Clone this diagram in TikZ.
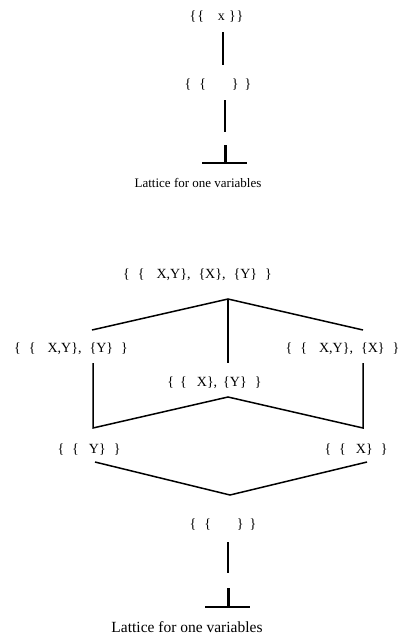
\documentclass[tikz,border=0pt]{standalone}
\usepackage{fontspec}
\setmainfont{Liberation Serif}
\newcommand{\gp}[1]{\hspace{#1pt}}
\begin{document}
\begin{tikzpicture}[x=1pt,y=-1pt,
  lbl/.style={inner sep=0pt,font=\fontsize{14}{16}\selectfont},
  captext/.style={inner sep=0pt,font=\fontsize{15.5}{18}\selectfont},
  edge/.style={line width=1.5pt}]
\useasboundingbox (0,0) rectangle (400,635);
% ---- top lattice
\node[lbl] (tx) at (216.5,17) {\{\gp{1}\{\gp{14}x\gp{4}\}\gp{1}\}};
\node[lbl] (te) at (218,85) {\{\gp{8}\{\gp{20}\gp{6}\}\gp{6}\}};
\coordinate (ta1) at (223,32);
\coordinate (ta2) at (223,65);
\coordinate (tb1) at (225,100);
\coordinate (tb2) at (225,132);
\draw[edge] (ta1) -- (ta2);
\draw[edge] (tb1) -- (tb2);
\coordinate (tbot) at (225,145);
\coordinate (tbl) at (202,163);
\coordinate (tbr) at (247,163);
\draw[line width=3pt] (tbot) -- (tbot |- tbl);
\draw[line width=2.4pt] (tbl) -- (tbr);
\node[captext,font=\fontsize{13}{15}\selectfont] (tcap) at (198,183) {Lattice for one variables};
% ---- bottom lattice
\node[lbl] (xyall) at (197.5,275) {\{\gp{8}\{\gp{12}X,Y\},\gp{8}\{X\},\gp{8}\{Y\}\gp{8}\}};
\node[lbl] (xyy) at (71,349) {\{\gp{8}\{\gp{12}X,Y\},\gp{8}\{Y\}\gp{8}\}};
\node[lbl] (xyx) at (342.5,349) {\{\gp{8}\{\gp{12}X,Y\},\gp{8}\{X\}\gp{8}\}};
\node[lbl] (xy) at (214.5,383) {\{\gp{6}\{\gp{10}X\},\gp{6}\{Y\}\gp{8}\}};
\node[lbl] (yy) at (89,450) {\{\gp{8}\{\gp{10}Y\}\gp{8}\}};
\node[lbl] (xx) at (356,450) {\{\gp{8}\{\gp{10}X\}\gp{8}\}};
\node[lbl] (ee) at (223,525) {\{\gp{8}\{\gp{20}\gp{6}\}\gp{6}\}};
\coordinate (ap1) at (228,299);
\coordinate (l1) at (92,330);
\coordinate (r1) at (363,330);
\coordinate (m1) at (228,363);
\draw[edge] (l1) -- (ap1) -- (r1);
\draw[edge] (ap1) -- (m1);
\coordinate (lv1) at (93,363);
\coordinate (lv2) at (93,428);
\coordinate (rv1) at (363,363);
\coordinate (rv2) at (363,428);
\coordinate (ap2) at (228,397);
\draw[edge] (lv1) -- (lv2) -- (ap2) -- (rv2) -- (rv1);
\coordinate (l3) at (95,462);
\coordinate (ap3) at (230,495);
\coordinate (r3) at (367,462);
\draw[edge] (l3) -- (ap3) -- (r3);
\coordinate (b1) at (228,542);
\coordinate (b2) at (228,573);
\draw[edge] (b1) -- (b2);
\coordinate (bbot) at (228,588);
\coordinate (bbl) at (205,607);
\coordinate (bbr) at (250,607);
\draw[line width=3pt] (bbot) -- (bbot |- bbl);
\draw[line width=2.4pt] (bbl) -- (bbr);
\node[captext] (bcap) at (187,627) {Lattice for one variables};
\end{tikzpicture}
\end{document}
